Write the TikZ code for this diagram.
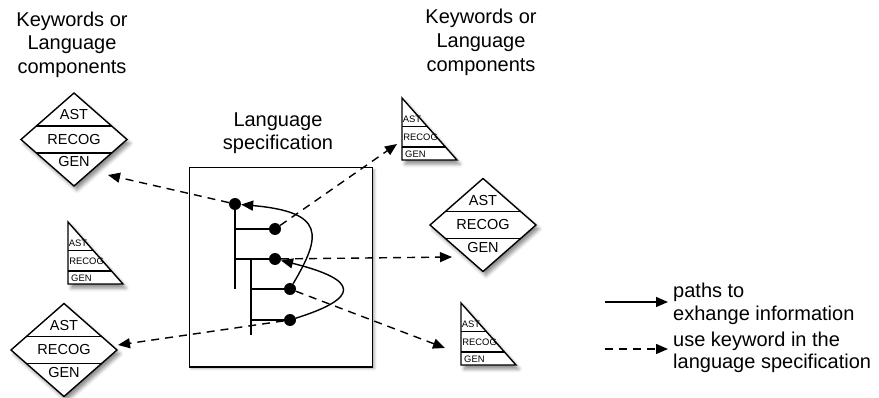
\documentclass[tikz,border=0pt]{standalone}
\usepackage{fontspec}
\setmainfont{Liberation Sans}
\usetikzlibrary{arrows.meta,shadows.blur,calc}

\tikzset{
  outline/.style={draw=black, line width=1.4pt, fill=white},
  softshadow/.style={blur shadow={shadow xshift=3pt, shadow yshift=-4pt,
      shadow blur radius=3.5pt, shadow opacity=45}},
  faintshadow/.style={blur shadow={shadow xshift=2pt, shadow yshift=-2pt,
      shadow blur radius=2pt, shadow opacity=30}},
  divider/.style={line width=1.4pt},
  bigcap/.style={font=\fontsize{14.5}{17}\selectfont, inner sep=0pt},
  smallcap/.style={font=\fontsize{9.4}{11}\selectfont, inner sep=0pt, anchor=west},
  heading/.style={font=\fontsize{20}{24}\selectfont, inner sep=0pt, anchor=base},
  legendtext/.style={font=\fontsize{20}{24}\selectfont, inner sep=0pt, anchor=base west},
  dot/.style={circle, fill=black, minimum size=12pt, inner sep=0pt},
  tree/.style={line width=1.4pt},
  info/.style={line width=1.4pt, -{Triangle[length=12pt,width=10pt]}},
  usekw/.style={line width=1.4pt, dash pattern=on 8pt off 6pt,
      -{Triangle[length=12pt,width=10pt]}},
}

% component drawn as a diamond split into AST / RECOG / GEN
\newcommand\KwDiamond[2]{%
  \begin{scope}[shift={#2}]
    \path[outline, softshadow] (0,-46.5) -- (53,0) -- (0,46.5) -- (-53,0) -- cycle;
    \draw[divider] (-37.6,-13.5) -- (37.6,-13.5);
    \draw[divider] (-37.6,13.5) -- (37.6,13.5);
    \node[bigcap] (#1-ast) at (0,-24.5) {AST};
    \node[bigcap] (#1-recog) at (0,0) {RECOG};
    \node[bigcap] (#1-gen) at (0,22.5) {GEN};
  \end{scope}}

% keyword drawn as a right triangle, given by its top corner
\newcommand\KwTriangle[2]{%
  \begin{scope}[shift={#2}]
    \path[outline, softshadow] (0,0) -- (55,62) -- (0,62) -- cycle;
    \draw[divider] (0,28.5) -- (25.3,28.5);
    \draw[divider] (0,49) -- (43.5,49);
    \node[smallcap] (#1-ast) at (0.6,21) {AST};
    \node[smallcap] (#1-recog) at (1.2,39) {RECOG};
    \node[smallcap] (#1-gen) at (3,56) {GEN};
  \end{scope}}

\begin{document}
\begin{tikzpicture}[x=1pt, y=-1pt]
\useasboundingbox (0,0) rectangle (879,398);

% headings
\node[heading] (hl1) at (72,27) {Keywords or};
\node[heading] (hl2) at (72,50) {Language};
\node[heading] (hl3) at (72,74) {components};
\node[heading] (hr1) at (481,23.5) {Keywords or};
\node[heading] (hr2) at (481,47.5) {Language};
\node[heading] (hr3) at (481,72) {components};
\node[heading] (hs1) at (278,127) {Language};
\node[heading] (hs2) at (278,150) {specification};

% components and keywords
\KwDiamond{dTL}{(74,139.5)}
\KwDiamond{dR}{(483,225)}
\KwDiamond{dBL}{(64,350)}
\KwTriangle{tTR}{(402,98)}
\KwTriangle{tML}{(68,222)}
\KwTriangle{tBR}{(461,303)}

% language specification box
\node[outline, faintshadow, minimum width=183.5pt, minimum height=199pt,
      inner sep=0pt] (spec) at (281,267.3) {};

% grammar tree
\node[dot] (D1) at (235,204) {};
\node[dot] (D2) at (275,229) {};
\node[dot] (D3) at (275,259) {};
\node[dot] (D4) at (290,289) {};
\node[dot] (D5) at (290,320) {};
\coordinate (v2top) at (251,259);
\coordinate (v2bot) at (251,335);
\draw[tree] (D1.center) -- (D1 |- D4);
\draw[tree] (D1 |- D2) -- (D2);
\draw[tree] (D1 |- D3) -- (D3);
\draw[tree] (v2top) -- (v2bot);
\draw[tree] (v2top |- D4) -- (D4);
\draw[tree] (v2top |- D5) -- (D5);

% information exchange paths
\draw[info] (D4) .. controls (322,235) and (325,212) .. (D1);
\draw[info] (D5) .. controls (360,298) and (360,280) .. (D3);

% keyword uses
\coordinate (tipA) at (108,175);
\coordinate (tipB) at (397,144);
\coordinate (tipC) at (452,257);
\coordinate (tipD) at (445,348);
\coordinate (tipE) at (118,345);
\draw[usekw] (D1) -- (tipA);
\draw[usekw] (D2) -- (tipB);
\draw[usekw] (D3) -- (tipC);
\draw[usekw] (D4) -- (tipD);
\draw[usekw] (D5) -- (tipE);

% legend
\coordinate (lgA0) at (605,302);
\coordinate (lgA1) at (668,302);
\coordinate (lgB0) at (605,349);
\coordinate (lgB1) at (668,349);
\draw[info] (lgA0) -- (lgA1);
\draw[usekw] (lgB0) -- (lgB1);
\node[legendtext] (la1) at (673,298) {paths to};
\node[legendtext] (la2) at (673,321) {exhange information};
\node[legendtext] (lb1) at (673,346) {use keyword in the};
\node[legendtext] (lb2) at (673,369) {language specification};
\end{tikzpicture}
\end{document}
